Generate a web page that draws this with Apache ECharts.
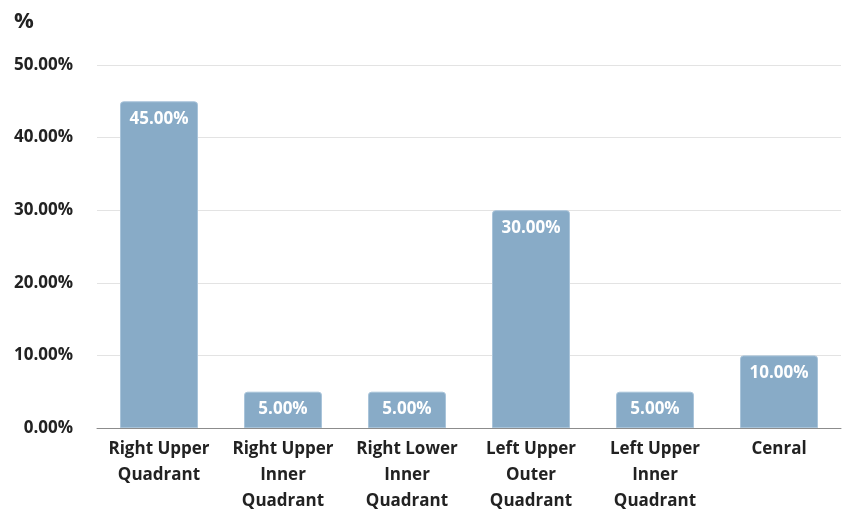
<!DOCTYPE html>
<html><head><meta charset="utf-8">
<script src="https://cdn.jsdelivr.net/npm/echarts@6/dist/echarts.min.js"></script>
<style>html,body{margin:0;padding:0;background:#fff}#c{width:849px;height:514px}</style>
</head><body><div id="c"></div>
<script>
const categories = ['Right Upper\nQuadrant','Right Upper\nInner\nQuadrant','Right Lower\nInner\nQuadrant','Left Upper\nOuter\nQuadrant','Left Upper\nInner\nQuadrant','Cenral'];
const values = [45, 5, 5, 30, 5, 10];
const yTicks = [0, 10, 20, 30, 40, 50];
const FONT = '"Open Sans", "DejaVu Sans", sans-serif';
const chart = echarts.init(document.getElementById('c'));
chart.setOption({
  animation:false,
  title:{text:'%', left:9, top:6, textStyle:{fontFamily:FONT, fontSize:22, fontWeight:'bold', color:'#222'}},
  grid:{left:97, right:8, top:65, bottom:74},
  xAxis:{type:'category', data:categories,
    axisLine:{lineStyle:{color:'#8c8c8c', width:1}}, axisTick:{show:false},
    axisLabel:{interval:0, fontFamily:FONT, fontSize:17, fontWeight:'bold', color:'#222', lineHeight:26, margin:8}},
  yAxis:{type:'value', min:0, max:50, interval:10,
    axisLine:{show:false}, axisTick:{show:false},
    splitLine:{lineStyle:{color:'#e3e3e3'}},
    axisLabel:{fontFamily:FONT, fontSize:17, fontWeight:'bold', color:'#222', margin:24,
      formatter:v=> yTicks.includes(v) ? v.toFixed(2)+'%' : ''}},
  series:[{type:'bar', data:values, barWidth:78,
    itemStyle:{color:'#88abc7', borderColor:'#a9c4da', borderWidth:1, borderRadius:[3,3,0,0]},
    label:{show:true, position:'insideTop', distance:9, color:'#fff', fontFamily:FONT, fontSize:17, fontWeight:'bold',
      formatter:p=>p.value.toFixed(2)+'%'}}]
});
</script></body></html>
